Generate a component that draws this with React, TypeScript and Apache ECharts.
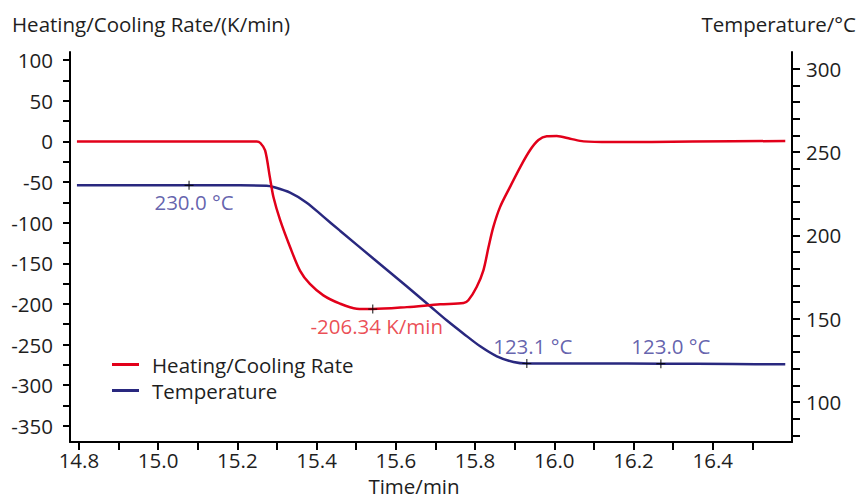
import React, { useEffect, useRef } from "react";
import * as echarts from "echarts";

// ---- Data ----
const rateTimes = [14.795, 15.249, 15.258, 15.27, 15.282, 15.291, 15.308, 15.333, 15.358, 15.383, 15.417, 15.459, 15.501, 15.542, 15.628, 15.712, 15.771, 15.783, 15.804, 15.821, 15.834, 15.846, 15.863, 15.888, 15.914, 15.939, 15.96, 15.981, 16.006, 16.04, 16.074, 16.141, 16.35, 16.583];
const rateValues = [0, 0, -2, -11, -44, -68.5, -97, -130, -159, -175.5, -189.5, -199.7, -205.9, -206.34, -204, -200.6, -199, -195.6, -179.3, -158.7, -130, -105.5, -80.9, -56.3, -31.6, -10.7, 1.6, 6.2, 6.5, 3.3, 0, -0.9, -0.3, 0.5];

const tempTimes = [14.795, 15.207, 15.274, 15.291, 15.333, 15.375, 15.417, 15.459, 15.543, 15.628, 15.686, 15.729, 15.771, 15.813, 15.855, 15.897, 15.931, 16.1, 16.269, 16.45, 16.583];
const tempValues = [230.0, 230.0, 229.8, 229.0, 225.6, 219.6, 211.2, 202.8, 186.1, 169.3, 157.6, 148.9, 141.0, 133.4, 127.4, 124.0, 123.1, 123.1, 123.0, 122.8, 122.6];

const rateMarkTimes = [15.5417];
const rateMarkValues = [-206.34];
const rateMarkLabels = ["-206.34 K/min"];

const tempMarkTimes = [15.078, 15.9306, 16.269];
const tempMarkValues = [230.0, 123.1, 123.0];
const tempMarkLabels = ["230.0 °C", "123.1 °C", "123.0 °C"];

const xTickValues = [14.8, 14.9, 15.0, 15.1, 15.2, 15.3, 15.4, 15.5, 15.6, 15.7, 15.8, 15.9, 16.0, 16.1, 16.2, 16.3, 16.4, 16.5];
const xLabelValues = [14.8, 15.0, 15.2, 15.4, 15.6, 15.8, 16.0, 16.2, 16.4];
const rateTickValues = [-350, -325, -300, -275, -250, -225, -200, -175, -150, -125, -100, -75, -50, -25, 0, 25, 50, 75, 100];
const rateLabelValues = [-350, -300, -250, -200, -150, -100, -50, 0, 50, 100];
const tempTickValues = [80, 90, 100, 110, 120, 130, 140, 150, 160, 170, 180, 190, 200, 210, 220, 230, 240, 250, 260, 270, 280, 290, 300];
const tempLabelValues = [100, 150, 200, 250, 300];

const seriesNames = ["Heating/Cooling Rate", "Temperature"];
const rateAxisName = "Heating/Cooling Rate/(K/min)";
const tempAxisName = "Temperature/°C";
const timeAxisName = "Time/min";

// ---- Styling ----
const FONT = "Open Sans";
const FS = 20.5;
const TEXT = "#1e1e1e";
const RED = "#e2001a";
const BLUE = "#29287f";
const RED_LABEL = "#e61e2a";
const BLUE_LABEL = "#3d3a98";
const CROSS = "path://M0,5L10,5M5,0L5,10";

export default function App() {
  const ref = useRef<HTMLDivElement>(null);

  useEffect(() => {
    if (!ref.current) return;
    const chart = echarts.init(ref.current, undefined, { renderer: "svg" });

    const axisLine = { show: true, onZero: false, lineStyle: { color: "#000", width: 2 } };
    const labelStyle = { color: TEXT, fontSize: FS, fontFamily: FONT };

    const tempOffsets = [
      [5, 17],
      [6, -18],
      [10, -18],
    ];

    const option: any = {
      animation: false,
      textStyle: { fontFamily: FONT },
      grid: { left: 70, right: 67, top: 52, bottom: 57, containLabel: false },
      legend: {
        orient: "vertical",
        left: 107,
        top: 349,
        icon: "rect",
        itemWidth: 27,
        itemHeight: 3,
        itemGap: 5,
        data: seriesNames,
        textStyle: { color: TEXT, fontSize: FS, fontFamily: FONT, padding: [0, 0, 0, 8] },
      },
      xAxis: {
        type: "value",
        min: 14.7775,
        max: 16.6,
        axisLine,
        splitLine: { show: false },
        axisTick: { show: true, length: 8, lineStyle: { color: "#000", width: 2 }, customValues: xTickValues },
        axisLabel: { ...labelStyle, margin: 7, customValues: xLabelValues, formatter: (v: number) => v.toFixed(1) },
      },
      yAxis: [
        {
          type: "value",
          position: "left",
          min: -370,
          max: 110,
          axisLine,
          splitLine: { show: false },
          axisTick: { show: true, length: 7, lineStyle: { color: "#000", width: 2 }, customValues: rateTickValues },
          axisLabel: { ...labelStyle, margin: 17, customValues: rateLabelValues },
        },
        {
          type: "value",
          position: "right",
          min: 76,
          max: 310,
          axisLine,
          splitLine: { show: false },
          axisTick: { show: true, length: 8, lineStyle: { color: "#000", width: 2 }, customValues: tempTickValues },
          axisLabel: { ...labelStyle, margin: 14, customValues: tempLabelValues },
        },
      ],
      series: [
        {
          name: seriesNames[0],
          type: "line",
          yAxisIndex: 0,
          symbol: "none",
          smooth: 0.3,
          lineStyle: { color: RED, width: 2.5 },
          itemStyle: { color: RED },
          data: rateTimes.map((t, i) => [t, rateValues[i]]),
          z: 3,
        },
        {
          name: seriesNames[1],
          type: "line",
          yAxisIndex: 1,
          symbol: "none",
          smooth: 0.3,
          lineStyle: { color: BLUE, width: 2.5 },
          itemStyle: { color: BLUE },
          data: tempTimes.map((t, i) => [t, tempValues[i]]),
          z: 2,
        },
        {
          name: "rateMarks",
          type: "scatter",
          yAxisIndex: 0,
          symbol: CROSS,
          symbolSize: 9,
          itemStyle: { color: "transparent", borderColor: "#000", borderWidth: 1.2 },
          label: {
            show: true,
            position: "inside",
            offset: [4, 17],
            color: RED_LABEL,
            fontSize: FS,
            fontFamily: FONT,
            formatter: (p: any) => rateMarkLabels[p.dataIndex],
          },
          data: rateMarkTimes.map((t, i) => [t, rateMarkValues[i]]),
          z: 5,
        },
        {
          name: "tempMarks",
          type: "scatter",
          yAxisIndex: 1,
          symbol: CROSS,
          symbolSize: 9,
          itemStyle: { color: "transparent", borderColor: "#000", borderWidth: 1.2 },
          label: {
            show: true,
            position: "inside",
            color: BLUE_LABEL,
            fontSize: FS,
            fontFamily: FONT,
            formatter: (p: any) => tempMarkLabels[p.dataIndex],
          },
          data: tempMarkTimes.map((t, i) => ({
            value: [t, tempMarkValues[i]],
            label: { offset: tempOffsets[i] },
          })),
          z: 5,
        },
      ],
      graphic: [
        {
          type: "text",
          x: 12,
          y: 24,
          style: { text: rateAxisName, fill: TEXT, font: `${FS}px "${FONT}"`, align: "left", verticalAlign: "middle" },
        },
        {
          type: "text",
          x: 856,
          y: 24,
          style: { text: tempAxisName, fill: TEXT, font: `${FS}px "${FONT}"`, align: "right", verticalAlign: "middle" },
        },
        {
          type: "text",
          x: 414,
          y: 486,
          style: { text: timeAxisName, fill: TEXT, font: `${FS}px "${FONT}"`, align: "center", verticalAlign: "middle" },
        },
      ],
    };

    chart.setOption(option);
    return () => chart.dispose();
  }, []);

  return (
    <div
      ref={ref}
      style={{ position: "fixed", left: 0, top: 0, width: 859, height: 499, background: "#fff" }}
    />
  );
}
